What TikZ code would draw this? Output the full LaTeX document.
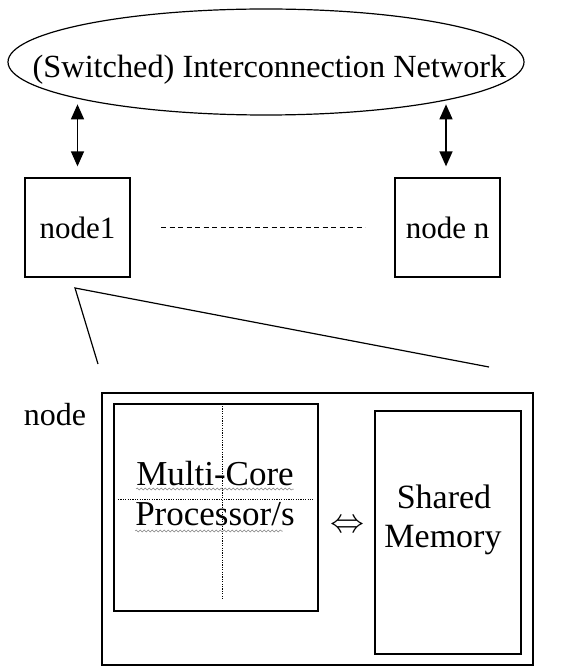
\documentclass[tikz,border=0pt]{standalone}
\usepackage{fontspec}
\setmainfont{Liberation Serif}
\usetikzlibrary{arrows.meta,shapes.geometric,decorations.pathmorphing}
\begin{document}
\begin{tikzpicture}[x=1pt,y=-1pt,
  box/.style={draw,line width=1.3pt,inner sep=0,rectangle},
  arr/.style={line width=1.5pt,{Triangle[length=15pt,width=13pt]}-{Triangle[length=15pt,width=13pt]}},
  zoomline/.style={line width=1.2pt},
  wavy/.style={gray,line width=0.5pt,decorate,decoration={snake,amplitude=1pt,segment length=4pt}},
  cross/.style={line width=0.9pt,dash pattern=on 1.2pt off 1.2pt},
  txt/.style={font=\fontsize{31}{36}\selectfont}]
\useasboundingbox (0,0) rectangle (564,668);
% network
\node[draw,ellipse,line width=1.2pt,minimum width=516pt,minimum height=106pt,inner sep=0] (net) at (266,62) {};
\node[font=\fontsize{32.3}{36}\selectfont,inner sep=0,anchor=base] (nettxt) at (269.5,78) {(Switched) Interconnection Network};
% nodes
\node[box,minimum width=105pt,minimum height=99pt,txt] (n1) at (77.5,227.5) {node1};
\node[box,minimum width=105pt,minimum height=99pt,txt] (nn) at (447.5,227.5) {node n};
\draw[arr] ([yshift=11pt]n1.north) -- ([yshift=73pt]n1.north);
\draw[arr] ([yshift=11pt,xshift=-1.5pt]nn.north) -- ([yshift=73pt,xshift=-1.5pt]nn.north);
\coordinate (d1) at (161,227);
\coordinate (d2) at (365,227);
\draw[line width=1pt,dash pattern=on 5pt off 3.5pt] (d1) -- (d2);
% zoom lines
\coordinate (z0) at (75,288);
\coordinate (z1) at (98,364);
\coordinate (z2) at (489,367);
\draw[zoomline] (z1) -- (z0) -- (z2);
% detailed node
\node[box,minimum width=431pt,minimum height=272pt] (big) at (317.5,529) {};
\node[anchor=base,font=\fontsize{32}{36}\selectfont] (lbl) at (55,425) {node};
\node[box,minimum width=204pt,minimum height=207pt] (proc) at (216,507.5) {};
\coordinate (cv1) at (222,406);
\coordinate (cv2) at (222,600);
\coordinate (ch1) at (118,499);
\coordinate (ch2) at (313,499);
\draw[cross] (cv1) -- (cv2);
\draw[cross] (ch1) -- (ch2);
\node[anchor=base,font=\fontsize{35}{40}\selectfont,inner sep=0] (t1) at (215,485) {Multi-Core};
\node[anchor=base,font=\fontsize{35}{40}\selectfont,inner sep=0] (t2) at (215,525) {Processor/s};
\draw[wavy] ([yshift=-4pt]t1.base west) -- ([yshift=-4pt]t1.base east);
\draw[wavy] ([yshift=-6pt]t2.base west) -- ([yshift=-6pt,xshift=-12pt]t2.base east);
\node[box,minimum width=146pt,minimum height=243pt] (mem) at (448,532.5) {};
\node[anchor=base,font=\fontsize{34}{39}\selectfont,inner sep=0] (s1) at (444,508) {Shared};
\node[anchor=base,font=\fontsize{34}{39}\selectfont,inner sep=0] (s2) at (443,547) {Memory};
\node[inner sep=0,scale=3.4] (bi) at (347.5,526) {$\Leftrightarrow$};
\end{tikzpicture}
\end{document}
